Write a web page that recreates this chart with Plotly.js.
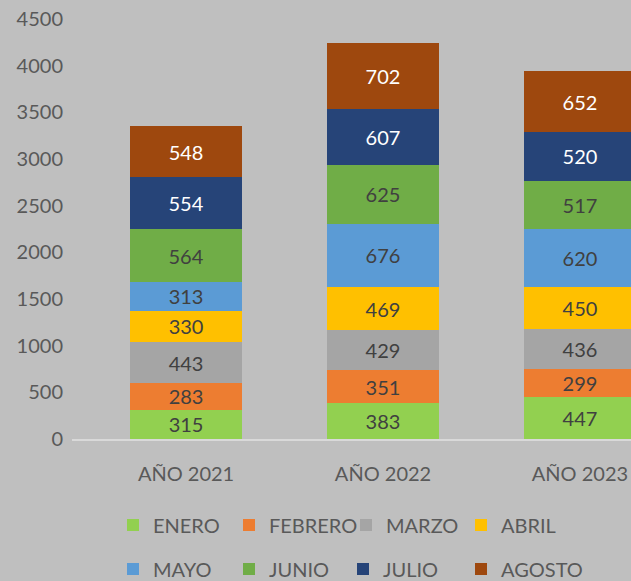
<!DOCTYPE html>
<html><head><meta charset="utf-8">
<script src="https://cdn.plot.ly/plotly-3.0.1.min.js"></script>
<style>html,body{margin:0;padding:0;background:#bfbfbf}</style>
</head><body><div id="chart" style="width:631px;height:581px"></div>
<script>
const categories = ["AÑO 2021", "AÑO 2022", "AÑO 2023"];
const months = ["ENERO", "FEBRERO", "MARZO", "ABRIL", "MAYO", "JUNIO", "JULIO", "AGOSTO"];
const enero   = [315, 383, 447];
const febrero = [283, 351, 299];
const marzo   = [443, 429, 436];
const abril   = [330, 469, 450];
const mayo    = [313, 676, 620];
const junio   = [564, 625, 517];
const julio   = [554, 607, 520];
const agosto  = [548, 702, 652];
const series = [enero, febrero, marzo, abril, mayo, junio, julio, agosto];
const colors = ["#92d050", "#ed7d31", "#a5a5a5", "#ffc000", "#5b9bd5", "#70ad47", "#264478", "#9e480e"];
const textColors = ["#404040", "#404040", "#404040", "#404040", "#404040", "#404040", "#ffffff", "#ffffff"];
const FONT = "Lato, 'Open Sans', sans-serif";

// legend entry placement (pixels in the 631x581 page)
const legendX = [113, 229, 346, 461, 113, 229, 343, 461];
const legendY = [525, 525, 525, 525, 569, 569, 569, 569];

const legendName = i => (i === 0 ? "legend" : "legend" + (i + 1));

const data = series.map((vals, i) => ({
  type: "bar",
  name: months[i],
  x: [0, 1, 2],
  y: vals,
  width: 0.57,
  text: vals.map(String),
  textposition: "inside",
  insidetextanchor: "middle",
  constraintext: "none",
  textangle: 0,
  textfont: {family: FONT, size: 20, color: textColors[i]},
  marker: {color: colors[i], line: {width: 0}},
  legend: legendName(i),
  hoverinfo: "none"
}));

const layout = {
  width: 631, height: 581,
  paper_bgcolor: "#bfbfbf", plot_bgcolor: "#bfbfbf",
  margin: {l: 72, r: 0, t: 19, b: 142},
  barmode: "stack",
  showlegend: true,
  xaxis: {
    range: [-0.579, 2.259],
    tickvals: [0, 1, 2], ticktext: categories,
    showgrid: false, zeroline: false,
    showline: true, linecolor: "#d9d9d9", linewidth: 2,
    ticks: "", ticklabelstandoff: 16,
    tickfont: {family: FONT, size: 20, color: "#595959"},
    fixedrange: true
  },
  yaxis: {
    range: [0, 4500], dtick: 500,
    showgrid: false, zeroline: false, showline: false,
    ticks: "", ticklabelstandoff: 8,
    tickfont: {family: FONT, size: 20, color: "#595959"},
    fixedrange: true
  }
};

months.forEach((m, i) => {
  layout[legendName(i)] = {
    orientation: "h",
    xref: "container", yref: "container",
    xanchor: "left", yanchor: "middle",
    x: legendX[i] / 631, y: 1 - legendY[i] / 581,
    bgcolor: "rgba(0,0,0,0)",
    font: {family: FONT, size: 20, color: "#595959"},
    itemwidth: 30
  };
});

Plotly.newPlot("chart", data, layout, {displayModeBar: false, staticPlot: true});
</script></body></html>
